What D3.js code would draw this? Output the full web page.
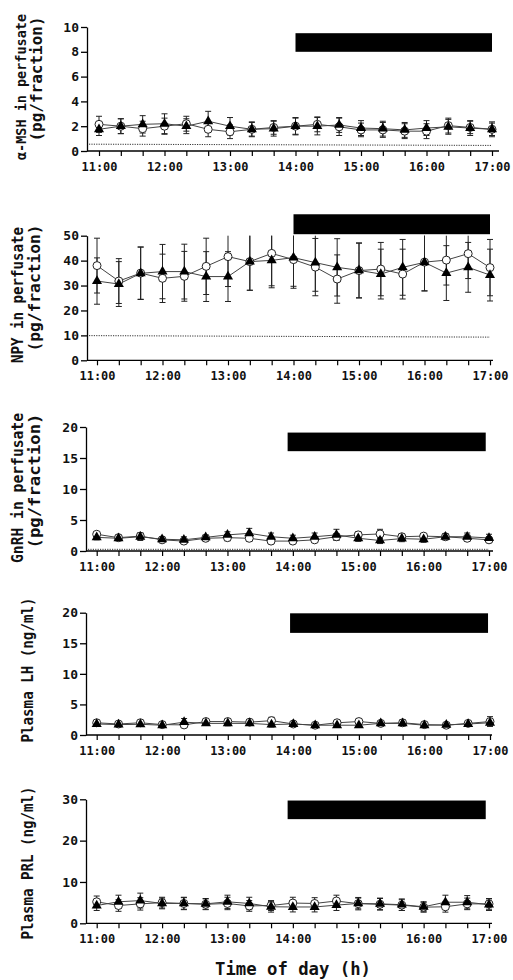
<!DOCTYPE html>
<html>
<head>
<meta charset="utf-8">
<script src="https://cdn.jsdelivr.net/npm/d3@7"></script>
<style>
  html, body { margin: 0; padding: 0; background: #fff; }
  svg { display: block; }
  text { font-family: "DejaVu Sans Mono", "Liberation Mono", monospace; font-weight: bold; fill: #111; }
</style>
</head>
<body>
<svg id="chart" width="513" height="980"></svg>
<script>
// ---------- DATA ----------
const timeLabels = ["11:00","11:20","11:40","12:00","12:20","12:40","13:00","13:20","13:40",
  "14:00","14:20","14:40","15:00","15:20","15:40","16:00","16:20","16:40","17:00"];
const hourLabels = ["11:00","12:00","13:00","14:00","15:00","16:00","17:00"];

// alpha-MSH (pg/fraction)
const mshOpen     = [2.15,2.0,1.8,2.0,2.2,1.75,1.55,1.75,1.9,2.0,2.15,1.95,1.7,1.7,1.6,1.6,2.05,1.9,1.75];
const mshOpenSE   = [0.65,0.6,0.6,0.65,0.6,0.6,0.55,0.55,0.55,0.65,0.6,0.7,0.55,0.6,0.6,0.6,0.6,0.5,0.5];
const mshClosed   = [1.75,2.0,2.15,2.2,2.0,2.4,2.0,1.75,1.8,2.0,2.0,2.1,1.85,1.8,1.7,1.85,1.95,1.85,1.75];
const mshClosedSE = [0.5,0.6,0.7,0.8,0.6,0.8,0.7,0.6,0.6,0.7,0.7,0.6,0.6,0.6,0.6,0.6,0.6,0.6,0.6];
const mshTicks = [0,2,4,6,8,10];
const mshLimit = [0.55,0.45];
const mshBar = [14,17,8.0,9.5];

// NPY (pg/fraction)
const npyOpen     = [38.0,31.8,35.0,32.9,33.7,37.7,41.6,39.6,42.9,40.4,37.4,32.6,36.0,36.6,34.6,39.4,40.2,42.8,37.2];
const npyOpenSE   = [11,9,10.5,9.7,10,11.3,12,11.5,13,11.5,11.5,9.7,11,10.7,10,11.5,10,10,11.3];
const npyClosed   = [31.8,30.6,34.9,35.6,35.6,33.6,33.6,39.6,40.1,41.2,39.2,37.3,36.1,34.6,37.3,39.3,35.0,37.3,34.2];
const npyClosedSE = [9.3,9,10.5,10.9,11,10,10,11.5,11,11.5,11.5,11.5,11,10,11.2,11.5,11,10,10.4];
const npyTicks = [0,10,20,30,40,50];
const npyLimit = [9.9,9.3];
const npyBar = [14,17,50.6,58.6];

// GnRH (pg/fraction)
const gnrhOpen     = [2.7,2.15,2.4,1.8,1.6,2.05,2.15,2.05,1.6,1.6,1.8,2.3,2.6,2.75,2.3,2.4,2.3,2.05,1.8];
const gnrhOpenSE   = [0.4,0.4,0.5,0.4,0.4,0.4,0.5,0.5,0.4,0.4,0.4,0.5,0.5,0.75,0.5,0.4,0.4,0.5,0.4];
const gnrhClosed   = [2.2,2.05,2.3,1.9,1.8,2.2,2.6,2.85,2.3,2.05,2.3,2.6,2.05,1.7,2.0,1.9,2.3,2.3,2.1];
const gnrhClosedSE = [0.4,0.4,0.6,0.4,0.5,0.4,0.5,0.8,0.6,0.5,0.6,0.9,0.5,0.5,0.5,0.5,0.5,0.6,0.6];
const gnrhTicks = [0,5,10,15,20];
const gnrhLimit = [0.27,0.27];
const gnrhBar = [13.92,16.95,16.1,19.1];

// Plasma LH (ng/ml)
const lhOpen     = [2.0,1.8,2.0,1.7,1.65,2.2,2.2,2.1,2.35,1.8,1.6,2.0,2.2,1.9,2.0,1.7,1.6,1.9,2.2];
const lhOpenSE   = [0.4,0.3,0.4,0.3,0.3,0.4,0.5,0.4,0.55,0.3,0.3,0.4,0.5,0.4,0.5,0.3,0.3,0.3,0.8];
const lhClosed   = [1.8,1.7,1.75,1.6,2.1,1.9,1.9,1.9,1.7,1.8,1.6,1.6,1.6,1.9,1.9,1.6,1.65,1.8,2.0];
const lhClosedSE = [0.3,0.3,0.3,0.3,0.6,0.3,0.4,0.3,0.4,0.3,0.3,0.3,0.3,0.3,0.4,0.3,0.3,0.3,0.5];
const lhTicks = [0,5,10,15,20];
const lhBar = [13.95,16.97,16.7,19.9];

// Plasma PRL (ng/ml)
const prlOpen     = [5.2,4.3,4.7,5.0,4.8,4.6,4.8,4.2,4.3,4.9,4.8,5.4,4.75,4.6,4.4,3.9,4.0,4.7,4.7];
const prlOpenSE   = [1.4,1.4,1.5,1.3,1.4,1.3,1.5,1.3,1.2,1.4,1.4,1.4,1.5,1.4,1.3,1.2,1.3,1.4,1.3];
const prlClosed   = [4.3,5.2,5.5,4.8,4.8,4.7,5.2,4.8,4.0,3.95,3.95,4.4,4.8,4.7,4.5,4.0,5.1,5.1,4.5];
const prlClosedSE = [1.2,1.6,1.8,1.3,1.5,1.3,1.6,1.5,1.3,1.2,1.2,1.3,1.3,1.4,1.4,1.2,1.7,1.6,1.4];
const prlTicks = [0,10,20,30];
const prlBar = [13.92,16.95,25.2,29.7];

const xTitle = "Time of day (h)";

// ---------- LAYOUT ----------
const panels = [
  { open: mshOpen, openSE: mshOpenSE, closed: mshClosed, closedSE: mshClosedSE, ticks: mshTicks, limit: mshLimit, bar: mshBar,
    labels: [{t:"α-MSH in perfusate", x:21, cy:87, len:146, fs:13.5}, {t:"(pg/fraction)", x:37, cy:79, len:125, fs:15}],
    axisX: 87, x0: 99, x1: 492, xEnd: 499, y0: 151, yTop: 27 },
  { open: npyOpen, openSE: npyOpenSE, closed: npyClosed, closedSE: npyClosedSE, ticks: npyTicks, limit: npyLimit, bar: npyBar,
    labels: [{t:"NPY in perfusate", x:18, cy:295, len:136, fs:15}, {t:"(pg/fraction)", x:35, cy:288, len:127, fs:15}],
    axisX: 87, x0: 97, x1: 490, xEnd: 493, y0: 360.3, yTop: 235.7 },
  { open: gnrhOpen, openSE: gnrhOpenSE, closed: gnrhClosed, closedSE: gnrhClosedSE, ticks: gnrhTicks, limit: gnrhLimit, bar: gnrhBar,
    labels: [{t:"GnRH in perfusate", x:18, cy:488, len:150, fs:15}, {t:"(pg/fraction)", x:35, cy:481, len:135, fs:15}],
    axisX: 86, x0: 96.7, x1: 489, xEnd: 493, y0: 551, yTop: 427 },
  { open: lhOpen, openSE: lhOpenSE, closed: lhClosed, closedSE: lhClosedSE, ticks: lhTicks, limit: null, bar: lhBar,
    labels: [{t:"Plasma LH (ng/ml)", x:28, cy:670, len:145, fs:15}],
    axisX: 86, x0: 96.7, x1: 490, xEnd: 492, y0: 735, yTop: 612.7 },
  { open: prlOpen, openSE: prlOpenSE, closed: prlClosed, closedSE: prlClosedSE, ticks: prlTicks, limit: null, bar: prlBar,
    labels: [{t:"Plasma PRL (ng/ml)", x:28, cy:863, len:153, fs:15}],
    axisX: 86, x0: 96.7, x1: 489, xEnd: 492, y0: 923.3, yTop: 799.3 }
];

const toHour = s => { const [h, m] = s.split(":").map(Number); return h + m / 60; };
const times = timeLabels.map(toHour);
const hours = hourLabels.map(toHour);

const svg = d3.select("#chart");

panels.forEach(p => {
  const g = svg.append("g");
  const x = d3.scaleLinear().domain([hours[0], hours[hours.length - 1]]).range([p.x0, p.x1]);
  const y = d3.scaleLinear().domain([0, d3.max(p.ticks)]).range([p.y0, p.yTop]);

  // black bar
  g.append("rect")
    .attr("x", x(p.bar[0])).attr("width", x(p.bar[1]) - x(p.bar[0]))
    .attr("y", y(p.bar[3])).attr("height", y(p.bar[2]) - y(p.bar[3]))
    .attr("fill", "#000");

  // detection limit dotted line
  if (p.limit) {
    g.append("line")
      .attr("x1", p.axisX + 2).attr("x2", x(hours[hours.length - 1]))
      .attr("y1", y(p.limit[0])).attr("y2", y(p.limit[1]))
      .attr("stroke", "#333").attr("stroke-width", 1).attr("stroke-dasharray", "1.2,1.2");
  }

  // y axis
  const ya = g.append("g").attr("transform", `translate(${p.axisX},0)`)
    .call(d3.axisLeft(y).tickValues(p.ticks).tickSize(6).tickSizeOuter(0).tickPadding(2).tickFormat(d3.format("d")));
  ya.select(".domain").attr("stroke", "#000").attr("stroke-width", 1.3);
  ya.selectAll(".tick line").attr("stroke", "#000").attr("stroke-width", 1.3);
  ya.selectAll(".tick text").attr("font-size", 13).attr("font-family", "DejaVu Sans Mono").attr("font-weight", "bold").attr("fill", "#111");

  // x axis
  const xa = g.append("g").attr("transform", `translate(0,${p.y0})`)
    .call(d3.axisBottom(x).tickValues(times).tickSize(5).tickPadding(6)
      .tickFormat(d => { const s = timeLabels[times.indexOf(d)]; return hourLabels.includes(s) ? s : ""; }));
  xa.select(".domain").remove();
  xa.append("line").attr("x1", p.axisX).attr("x2", p.xEnd).attr("y1", 0).attr("y2", 0)
    .attr("stroke", "#000").attr("stroke-width", 1.3);
  xa.selectAll(".tick line").attr("stroke", "#000").attr("stroke-width", 1.2);
  xa.selectAll(".tick text").attr("font-size", 12.5).attr("font-family", "DejaVu Sans Mono").attr("font-weight", "bold").attr("fill", "#111")
    .attr("textLength", 36).attr("lengthAdjust", "spacingAndGlyphs");

  // y labels
  p.labels.forEach(l => {
    g.append("text")
      .attr("transform", `translate(${l.x},${l.cy}) rotate(-90)`)
      .attr("text-anchor", "middle").attr("dy", "0.35em")
      .attr("font-size", l.fs)
      .attr("textLength", l.len).attr("lengthAdjust", "spacingAndGlyphs")
      .text(l.t);
  });

  const line = d3.line().x((d, i) => x(times[i])).y(d => y(d));
  const series = [
    { v: p.open, se: p.openSE, kind: "open" },
    { v: p.closed, se: p.closedSE, kind: "closed" }
  ];

  // connecting lines
  series.forEach(s => {
    g.append("path").attr("d", line(s.v)).attr("fill", "none")
      .attr("stroke", "#444").attr("stroke-width", 1);
  });

  // error bars
  series.forEach(s => {
    const eb = g.append("g").attr("stroke", "#222").attr("stroke-width", 1);
    s.v.forEach((v, i) => {
      const cx = x(times[i]);
      const top = y(Math.min(v + s.se[i], d3.max(p.ticks)));
      const bot = y(v - s.se[i]);
      eb.append("line").attr("x1", cx).attr("x2", cx).attr("y1", top).attr("y2", bot);
      if (v + s.se[i] <= d3.max(p.ticks))
        eb.append("line").attr("x1", cx - 3).attr("x2", cx + 3).attr("y1", top).attr("y2", top);
      eb.append("line").attr("x1", cx - 3).attr("x2", cx + 3).attr("y1", bot).attr("y2", bot);
    });
  });

  // markers: open circles
  g.selectAll(null).data(p.open).enter().append("circle")
    .attr("cx", (d, i) => x(times[i])).attr("cy", d => y(d)).attr("r", 4)
    .attr("fill", "#fff").attr("stroke", "#222").attr("stroke-width", 1);

  // markers: filled triangles
  const tri = d3.symbol().type(d3.symbolTriangle).size(44);
  g.selectAll(null).data(p.closed).enter().append("path")
    .attr("d", tri)
    .attr("transform", (d, i) => `translate(${x(times[i])},${y(d)})`)
    .attr("fill", "#000");
});

// x title
svg.append("text")
  .attr("x", 293).attr("y", 969).attr("dy", "0.35em")
  .attr("text-anchor", "middle").attr("font-size", 18)
  .attr("textLength", 156).attr("lengthAdjust", "spacingAndGlyphs")
  .text(xTitle);
</script>
</body>
</html>
